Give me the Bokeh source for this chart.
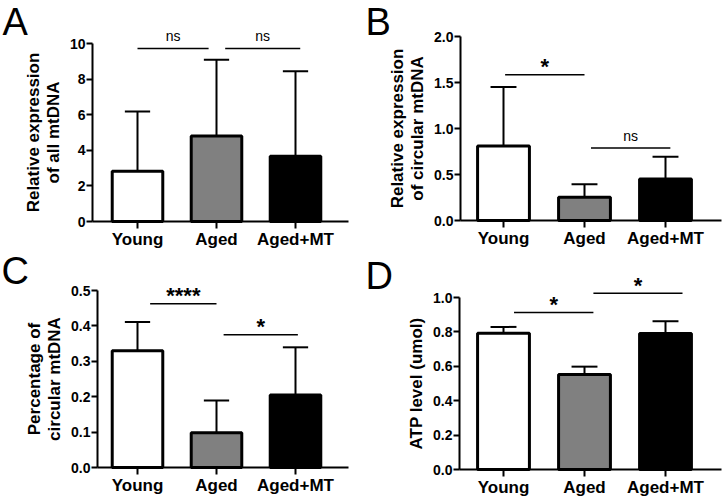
from bokeh.plotting import figure
from bokeh.models import Range1d, FixedTicker, Label, ColumnDataSource, PrintfTickFormatter
from bokeh.layouts import column, row
from bokeh.embed import file_html
from bokeh.resources import INLINE

# ---------------- data ----------------
categories = ["Young", "Aged", "Aged+MT"]
bar_colors = ["#ffffff", "#808080", "#000000"]

a_mean = [2.82, 4.80, 3.66]
a_sd = [3.36, 4.29, 4.78]
a_yticks = [0, 2, 4, 6, 8, 10]
a_sig = [[1.00, 1.90, 9.72, "ns"], [2.11, 3.06, 9.72, "ns"]]

b_mean = [0.81, 0.253, 0.452]
b_sd = [0.64, 0.141, 0.242]
b_yticks = [0.0, 0.5, 1.0, 1.5, 2.0]
b_sig = [[1.02, 2.00, 1.584, "*"], [2.08, 3.06, 0.788, "ns"]]

c_mean = [0.330, 0.0985, 0.2045]
c_sd = [0.081, 0.0905, 0.135]
c_yticks = [0.0, 0.1, 0.2, 0.3, 0.4, 0.5]
c_sig = [[1.16, 2.00, 0.4625, "****"], [2.09, 3.03, 0.375, "*"]]

d_mean = [0.792, 0.553, 0.790]
d_sd = [0.037, 0.045, 0.072]
d_yticks = [0.0, 0.2, 0.4, 0.6, 0.8, 1.0]
d_sig = [[1.13, 2.11, 0.913, "*"], [2.11, 3.21, 1.025, "*"]]

FONT = "Liberation Sans"
W, H = 361, 248


def panel(letter, ylabel, mean, sd, yticks, fmt, sig,
          axis_px, first_off, ppu, right_px, top_px, zero_px, letter_xy):
    xs = [i + 1 for i in range(len(categories))]
    x_start = 1 - (axis_px + first_off) / ppu
    x_end = x_start + W / ppu
    x_axis = x_start + axis_px / ppu
    x_right = x_start + right_px / ppu
    ymax = yticks[-1]
    ppu_y = (zero_px - top_px) / ymax
    y_end = ymax + top_px / ppu_y
    y_start = -(H - zero_px) / ppu_y

    p = figure(width=W, height=H, output_backend="svg", toolbar_location=None,
               x_range=Range1d(x_start, x_end), y_range=Range1d(y_start, y_end),
               min_border=0, min_border_left=0, min_border_right=0,
               min_border_top=0, min_border_bottom=0)
    p.xgrid.visible = False
    p.ygrid.visible = False
    p.outline_line_color = None
    p.background_fill_color = "white"
    p.border_fill_color = "white"

    for ax in (p.xaxis[0], p.yaxis[0]):
        ax.axis_line_width = 2
        ax.axis_line_color = "black"
        ax.major_tick_line_width = 2
        ax.major_tick_line_color = "black"
        ax.minor_tick_line_color = None
        ax.major_tick_in = 0
        ax.major_label_text_font = FONT
        ax.major_label_text_font_style = "bold"
        ax.major_label_text_color = "black"

    xa = p.xaxis[0]
    xa.fixed_location = 0
    xa.bounds = (x_axis, x_right)
    xa.ticker = FixedTicker(ticks=xs)
    xa.major_label_overrides = {x: c for x, c in zip(xs, categories)}
    xa.major_tick_out = 7
    xa.major_label_standoff = 1
    xa.major_label_text_font_size = "17px"

    ya = p.yaxis[0]
    ya.fixed_location = x_axis
    ya.bounds = (0, ymax)
    ya.ticker = FixedTicker(ticks=yticks)
    ya.formatter = PrintfTickFormatter(format=fmt)
    ya.major_tick_out = 6
    ya.major_label_standoff = 1
    ya.major_label_text_font_size = "14px"
    ya.axis_label = ylabel
    ya.axis_label_text_font = FONT
    ya.axis_label_text_font_style = "bold"
    ya.axis_label_text_font_size = "17px"
    ya.axis_label_text_color = "black"
    ya.axis_label_standoff = 4
    ya.axis_label_text_line_height = 1.05

    tops = [m + s for m, s in zip(mean, sd)]
    src = ColumnDataSource(dict(
        x=xs, mean=mean, top=tops, color=bar_colors,
        cl=[x - 0.16 for x in xs], cr=[x + 0.16 for x in xs]))
    p.segment(x0="x", y0="mean", x1="x", y1="top", source=src,
              line_width=2, line_color="black")
    p.segment(x0="cl", y0="top", x1="cr", y1="top", source=src,
              line_width=2, line_color="black")
    p.vbar(x="x", top="mean", bottom=0, width=0.64, source=src,
           fill_color="color", line_color="black", line_width=3)

    sig_src = ColumnDataSource(dict(
        x0=[s[0] for s in sig], x1=[s[1] for s in sig], y=[s[2] for s in sig]))
    p.segment(x0="x0", y0="y", x1="x1", y1="y", source=sig_src,
              line_width=1.5, line_color="black")
    for x0, x1, y, txt in sig:
        star = txt.startswith("*")
        p.add_layout(Label(x=(x0 + x1) / 2, y=y, text=txt, text_align="center",
                           text_baseline="alphabetic",
                           y_offset=8 if star else 12,
                           text_font=FONT,
                           text_font_size="22px" if star else "14px",
                           text_font_style="bold" if star else "normal",
                           text_color="black"))

    lx, ly = letter_xy
    p.add_layout(Label(x=x_start + lx / ppu, y=y_end - ly / ppu_y,
                       text=letter, text_align="left", text_baseline="top",
                       text_line_height=1.0,
                       text_font=FONT, text_font_size="38px", text_color="black"))
    return p


pA = panel("A", "Relative expression\nof all mtDNA", a_mean, a_sd, a_yticks, "%d", a_sig,
           92, 45, 79, 348, 43, 221, (2, 0))
pB = panel("B", "Relative expression\nof circular mtDNA", b_mean, b_sd, b_yticks, "%.1f", b_sig,
           99, 43, 81, 360, 36, 220, (4, 0))
pC = panel("C", "Percentage of\ncircular mtDNA", c_mean, c_sd, c_yticks, "%.1f", c_sig,
           97, 40, 79, 348, 42, 219, (1, 1))
pD = panel("D", "ATP level (umol)", d_mean, d_sd, d_yticks, "%.1f", d_sig,
           98, 44, 81, 360, 49, 221, (4, 6))

layout = column(row(pA, pB), row(pC, pD))
open("out.html", "w").write(file_html(layout, INLINE))
